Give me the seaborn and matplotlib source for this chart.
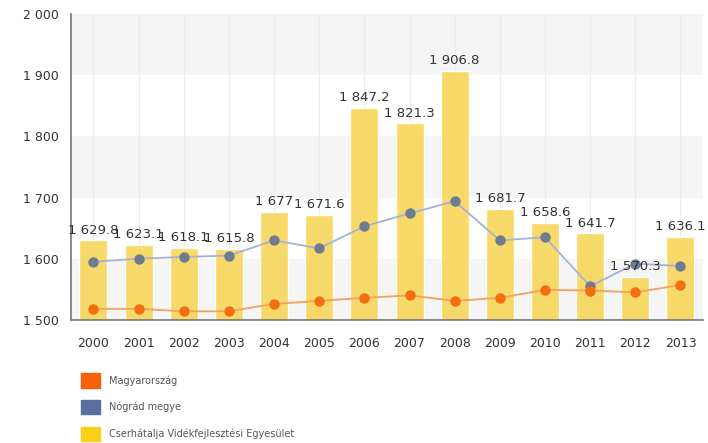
import matplotlib
matplotlib.use("Agg")
import matplotlib.pyplot as plt
import seaborn as sns
import pandas as pd
from matplotlib.patches import Patch

# adatok
years = [str(y) for y in range(2000, 2014)]
cserhat = [1629.8, 1623.1, 1618.1, 1615.8, 1677.0, 1671.6, 1847.2, 1821.3,
           1906.8, 1681.7, 1658.6, 1641.7, 1570.3, 1636.1]
nograd = [1595, 1600, 1603, 1605, 1630, 1617, 1653, 1674, 1694, 1630, 1635,
          1555, 1592, 1588]
magyar = [1518, 1518, 1514, 1514, 1526, 1531, 1536, 1540, 1531, 1536, 1549,
          1548, 1545, 1557]
labels = ["1 629.8", "1 623.1", "1 618.1", "1 615.8", "1 677", "1 671.6",
          "1 847.2", "1 821.3", "1 906.8", "1 681.7", "1 658.6", "1 641.7",
          "1 570.3", "1 636.1"]
legend_names = ["Magyarország", "Nógrád megye",
                "Cserhátalja Vidékfejlesztési Egyesület"]

df = pd.DataFrame({"ev": years, "cserhat": cserhat, "nograd": nograd,
                   "magyar": magyar})

sns.set_style("white")
plt.rcParams["font.family"] = ["DejaVu Sans"]

fig = plt.figure(figsize=(7.08, 4.43), dpi=100)
ax = fig.add_axes([0.100, 0.278, 0.893, 0.690])

# háttér sávok
for lo in [1500, 1700, 1900]:
    ax.axhspan(lo, lo + 100, color="#f4f4f4", zorder=0, lw=0)
for i in range(len(years)):
    ax.axvline(i, color="#ececec", lw=0.8, zorder=0.5)

sns.barplot(data=df, x="ev", y="cserhat", color="#f8d65a", width=0.62,
            saturation=1, ax=ax, zorder=2)
for p in ax.patches:
    p.set_alpha(0.9)

sns.pointplot(data=df, x="ev", y="nograd", color="#a4b2d6", markers="o",
              markersize=6.5, linewidth=1.3, errorbar=None, ax=ax, zorder=3,
              markerfacecolor="#6f7b91", markeredgecolor="#6f7b91")
sns.pointplot(data=df, x="ev", y="magyar", color="#f4a060", markers="o",
              markersize=6.5, linewidth=1.3, errorbar=None, ax=ax, zorder=3,
              markerfacecolor="#f26e10", markeredgecolor="#f26e10")

for i, (v, t) in enumerate(zip(cserhat, labels)):
    ax.text(i, v + 6, t, ha="center", va="bottom", fontsize=9.5,
            color="#333333", zorder=5)

ax.set_ylim(1500, 2000)
ax.set_xlim(-0.5, len(years) - 0.5)
ax.set_yticks([1500, 1600, 1700, 1800, 1900, 2000])
ax.set_yticklabels(["1 500", "1 600", "1 700", "1 800", "1 900", "2 000"])
ax.set_xlabel("")
ax.set_ylabel("")
ax.tick_params(axis="both", labelsize=9, colors="#333333", length=5,
               width=1, direction="out")
ax.tick_params(axis="both", color="#666666")
ax.tick_params(axis="x", pad=7)
for s in ["top", "right"]:
    ax.spines[s].set_visible(False)
for s in ["left", "bottom"]:
    ax.spines[s].set_color("#777777")
    ax.spines[s].set_linewidth(1.2)

handles = [Patch(color="#f5600a"), Patch(color="#5a6fa0"),
           Patch(color="#f9cf1a")]
fig.legend(handles, legend_names, loc="upper left",
           bbox_to_anchor=(0.108, 0.168), frameon=False, fontsize=7,
           handlelength=1.9, handleheight=1.9, labelspacing=1.25,
           handletextpad=0.9, labelcolor="#555555", borderpad=0)

fig.savefig("out.png", dpi=100)
